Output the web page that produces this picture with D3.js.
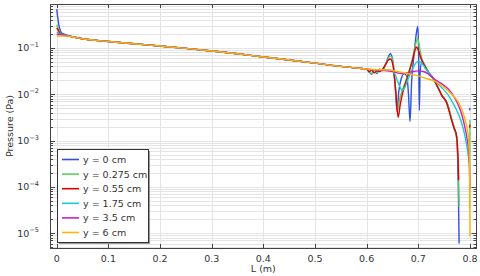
<!DOCTYPE html>
<html lang="en">
<head>
    <meta charset="UTF-8">
    <title>Pressure vs L</title>
    <script src="https://d3js.org/d3.v7.min.js"></script>
    <style>
        body {
            margin: 0;
            padding: 0;
            background: #fff;
            font-family: "DejaVu Sans", sans-serif;
        }
        svg text {
            fill: #333;
        }
        .grid line {
            stroke: #e4e4e4;
            stroke-width: 1px;
        }
    </style>
</head>
<body>
    <svg id="chart" width="480" height="276"></svg>

    <script>
        // x tick labels
        const xTicks = [0, 0.1, 0.2, 0.3, 0.4, 0.5, 0.6, 0.7, 0.8];
        const yDecades = [-5, -4, -3, -2, -1];

        const seriesNames = ["y = 0 cm", "y = 0.275 cm", "y = 0.55 cm", "y = 1.75 cm", "y = 3.5 cm", "y = 6 cm"];
        const seriesColors = ["#3050e0", "#5ccf5c", "#e00000", "#1fcccc", "#c71fc7", "#ffb400"];

        // common part of all curves (L in m, pressure in Pa)
        const trunk = [
            [0.03, 0.175], [0.05, 0.158], [0.1, 0.138], [0.15, 0.123], [0.2, 0.11],
            [0.25, 0.098], [0.3, 0.086], [0.35, 0.075], [0.4, 0.064], [0.45, 0.055],
            [0.5, 0.047], [0.55, 0.04], [0.59, 0.036]
        ];

        // start of each curve near the inlet
        const headY0 = [[0, 0.69], [0.002, 0.45], [0.005, 0.28], [0.01, 0.21], [0.02, 0.19]];
        const headY0275 = [[0, 0.32], [0.002, 0.27], [0.005, 0.23], [0.01, 0.2], [0.02, 0.186]];
        const headY055 = [[0, 0.27], [0.003, 0.24], [0.006, 0.21], [0.01, 0.195], [0.02, 0.184]];
        const headY175 = [[0, 0.22], [0.005, 0.205], [0.01, 0.193], [0.02, 0.183]];
        const headY35 = [[0, 0.2], [0.01, 0.19], [0.02, 0.182]];
        const headY6 = [[0, 0.182], [0.01, 0.182], [0.02, 0.18]];

        // end of each curve (null = curve not drawn, value <= 0)
        const tailY0 = [
            [0.6, 0.035], [0.605, 0.03], [0.61, 0.027], [0.615, 0.034], [0.62, 0.028], [0.625, 0.035],
            [0.63, 0.032], [0.636, 0.042], [0.641, 0.06], [0.646, 0.075], [0.651, 0.05], [0.655, 0.016],
            [0.659, 0.0042], [0.662, 0.011], [0.667, 0.022], [0.673, 0.028], [0.678, 0.024], [0.681, 0.01],
            [0.684, 0.0026], [0.687, 0.018], [0.692, 0.075], [0.696, 0.2], [0.699, 0.29], [0.7005, 0.1],
            [0.702, 0.0045], [0.7035, 0.03], [0.707, 0.05], [0.713, 0.04], [0.72, 0.03], [0.732, 0.019],
            [0.745, 0.0096], [0.758, 0.0055], [0.764, 0.003], [0.769, 0.0019], [0.774, 0.0012],
            [0.776, 0.0005], [0.7775, 0.0001], [0.779, 0.000006], [0.79, null],
            [0.7992, 0.0045], [0.8, 0.0051]
        ];
        const tailY0275 = [
            [0.6, 0.035], [0.605, 0.031], [0.61, 0.028], [0.615, 0.033], [0.62, 0.029], [0.625, 0.034],
            [0.63, 0.033], [0.636, 0.042], [0.641, 0.057], [0.646, 0.068], [0.651, 0.048], [0.655, 0.018],
            [0.66, 0.0045], [0.664, 0.008], [0.67, 0.013], [0.68, 0.027], [0.688, 0.055], [0.694, 0.11],
            [0.699, 0.16], [0.702, 0.11], [0.706, 0.065], [0.713, 0.042], [0.72, 0.03], [0.732, 0.019],
            [0.745, 0.0098], [0.758, 0.0056], [0.764, 0.0031], [0.769, 0.002], [0.774, 0.0012],
            [0.776, 0.0006], [0.778, 0.0002], [0.779, 0.000037], [0.79, null],
            [0.7992, 0.000035], [0.8, 0.0028]
        ];
        const tailY055 = [
            [0.6, 0.035], [0.605, 0.031], [0.61, 0.033], [0.615, 0.029], [0.62, 0.032], [0.625, 0.031],
            [0.63, 0.034], [0.637, 0.045], [0.642, 0.055], [0.646, 0.058], [0.651, 0.042], [0.656, 0.013],
            [0.661, 0.0032], [0.665, 0.006], [0.67, 0.011], [0.68, 0.025], [0.688, 0.05], [0.693, 0.085],
            [0.696, 0.105], [0.7, 0.09], [0.705, 0.06], [0.713, 0.04], [0.72, 0.029], [0.727, 0.024],
            [0.732, 0.019], [0.738, 0.014], [0.742, 0.0115], [0.745, 0.0096], [0.75, 0.0082],
            [0.755, 0.0065], [0.758, 0.005], [0.764, 0.0029], [0.769, 0.0019], [0.774, 0.0013],
            [0.776, 0.0007], [0.777, 0.0004], [0.778, 0.00014], [0.79, null],
            [0.7992, 0.0019], [0.8, 0.0022]
        ];
        const tailY175 = [
            [0.6, 0.035], [0.62, 0.034], [0.64, 0.034], [0.65, 0.032], [0.655, 0.027], [0.66, 0.019],
            [0.665, 0.014], [0.669, 0.012], [0.674, 0.014], [0.68, 0.021], [0.688, 0.034], [0.695, 0.047],
            [0.7, 0.051], [0.706, 0.048], [0.713, 0.037], [0.72, 0.029], [0.732, 0.02], [0.745, 0.014],
            [0.758, 0.0096], [0.768, 0.0062], [0.777, 0.0039], [0.784, 0.0024], [0.79, 0.0013],
            [0.795, 0.00065], [0.7975, 0.00042], [0.7995, 0.0003]
        ];
        const tailY35 = [
            [0.6, 0.035], [0.63, 0.033], [0.65, 0.031], [0.665, 0.028], [0.68, 0.029], [0.69, 0.031],
            [0.7, 0.032], [0.71, 0.031], [0.72, 0.027], [0.732, 0.021], [0.745, 0.017], [0.758, 0.013],
            [0.768, 0.0092], [0.777, 0.006], [0.784, 0.0037], [0.79, 0.002], [0.795, 0.001],
            [0.7975, 0.0006], [0.799, 0.00025], [0.7998, 0.00009]
        ];
        const tailY6 = [
            [0.6, 0.035], [0.62, 0.034], [0.642, 0.0335], [0.66, 0.031], [0.68, 0.028], [0.7, 0.025],
            [0.715, 0.022], [0.732, 0.019], [0.745, 0.0155], [0.758, 0.0118], [0.768, 0.0092],
            [0.777, 0.0069], [0.784, 0.0048], [0.79, 0.003], [0.795, 0.0017], [0.7975, 0.001],
            [0.799, 0.0004], [0.7996, 0.0001], [0.8, 0.0000085]
        ];

        const heads = [headY0, headY0275, headY055, headY175, headY35, headY6];
        const tails = [tailY0, tailY0275, tailY055, tailY175, tailY35, tailY6];

        const margin = { left: 50, top: 4, right: 476, bottom: 248 };

        const svg = d3.select("#chart");

        const x = d3.scaleLinear()
            .domain([-0.013, 0.8117])
            .range([margin.left, margin.right]);

        const y = d3.scaleLog()
            .domain([4.8e-6, 0.89])
            .range([margin.bottom, margin.top]);

        // minor/major y values inside the domain
        const yMinor = [];
        const yMajor = [];
        for (let k = -6; k <= 0; k++) {
            for (let m = 1; m <= 9; m++) {
                const v = m * Math.pow(10, k);
                if (v < y.domain()[0] || v > y.domain()[1]) continue;
                if (m === 1) yMajor.push(v); else yMinor.push(v);
            }
        }

        // grid
        const grid = svg.append("g").attr("class", "grid");
        grid.selectAll("line.h")
            .data(yMinor.concat(yMajor))
            .join("line")
            .attr("x1", margin.left).attr("x2", margin.right)
            .attr("y1", d => Math.round(y(d)) + 0.5).attr("y2", d => Math.round(y(d)) + 0.5);
        grid.selectAll("line.v")
            .data(xTicks)
            .join("line")
            .attr("x1", d => Math.round(x(d)) + 0.5).attr("x2", d => Math.round(x(d)) + 0.5)
            .attr("y1", margin.top).attr("y2", margin.bottom);

        // curves
        const line = d3.line()
            .defined(d => d[1] !== null)
            .x(d => x(d[0]))
            .y(d => y(d[1]))
            .curve(d3.curveMonotoneX);

        const curves = svg.append("g")
            .attr("fill", "none")
            .attr("stroke-width", 1.4)
            .attr("stroke-linejoin", "round");

        seriesNames.forEach((name, i) => {
            const pts = heads[i].concat(trunk, tails[i]);
            curves.append("path")
                .attr("d", line(pts))
                .attr("stroke", seriesColors[i]);
        });

        // frame
        svg.append("rect")
            .attr("x", margin.left + 0.5).attr("y", margin.top + 0.5)
            .attr("width", margin.right - margin.left).attr("height", margin.bottom - margin.top)
            .attr("fill", "none").attr("stroke", "#444").attr("stroke-width", 1);

        // ticks (inside)
        const ticks = svg.append("g").attr("stroke", "#444").attr("stroke-width", 1);
        const yTicksAll = yMajor.map(v => [v, 5]).concat(yMinor.map(v => [v, 3]));
        yTicksAll.forEach(([v, len]) => {
            const py = Math.round(y(v)) + 0.5;
            ticks.append("line").attr("x1", margin.left).attr("x2", margin.left + len).attr("y1", py).attr("y2", py);
            ticks.append("line").attr("x1", margin.right + 0.5).attr("x2", margin.right + 0.5 - len).attr("y1", py).attr("y2", py);
        });
        xTicks.forEach(v => {
            const px = Math.round(x(v)) + 0.5;
            ticks.append("line").attr("x1", px).attr("x2", px).attr("y1", margin.bottom + 0.5).attr("y2", margin.bottom - 4);
            ticks.append("line").attr("x1", px).attr("x2", px).attr("y1", margin.top + 0.5).attr("y2", margin.top + 4);
        });

        // tick labels
        svg.append("g")
            .selectAll("text")
            .data(xTicks)
            .join("text")
            .attr("x", d => x(d))
            .attr("y", 262)
            .attr("text-anchor", "middle")
            .style("font-size", "9.5px")
            .text(d => d3.format("")(d));

        const yLab = svg.append("g")
            .selectAll("text")
            .data(yDecades)
            .join("text")
            .attr("x", 39)
            .attr("y", d => y(Math.pow(10, d)) + 3.5)
            .attr("text-anchor", "end")
            .style("font-size", "9.5px");
        yLab.append("tspan").text("10");
        yLab.append("tspan")
            .attr("dy", -4.5)
            .style("font-size", "6.5px")
            .text(d => "\u2212" + Math.abs(d));

        // axis titles
        svg.append("text")
            .attr("x", x(0.4))
            .attr("y", 272)
            .attr("text-anchor", "middle")
            .style("font-size", "9.5px")
            .text("L (m)");

        svg.append("text")
            .attr("transform", `translate(13,${(margin.top + margin.bottom) / 2}) rotate(-90)`)
            .attr("text-anchor", "middle")
            .style("font-size", "9.5px")
            .text("Pressure (Pa)");

        // legend
        const leg = svg.append("g").attr("transform", "translate(57,149)");
        leg.append("rect")
            .attr("x", 2).attr("y", 2).attr("width", 91).attr("height", 93)
            .attr("fill", "#999");
        leg.append("rect")
            .attr("x", 0.5).attr("y", 0.5).attr("width", 91).attr("height", 93)
            .attr("fill", "#fff").attr("stroke", "#333");
        seriesNames.forEach((name, i) => {
            const ry = 10.5 + i * 14.6;
            leg.append("line")
                .attr("x1", 5).attr("x2", 22)
                .attr("y1", ry).attr("y2", ry)
                .attr("stroke", seriesColors[i]).attr("stroke-width", 1.6);
            leg.append("text")
                .attr("x", 26).attr("y", ry + 3.5)
                .style("font-size", "9.5px")
                .text(name);
        });
    </script>
</body>
</html>
